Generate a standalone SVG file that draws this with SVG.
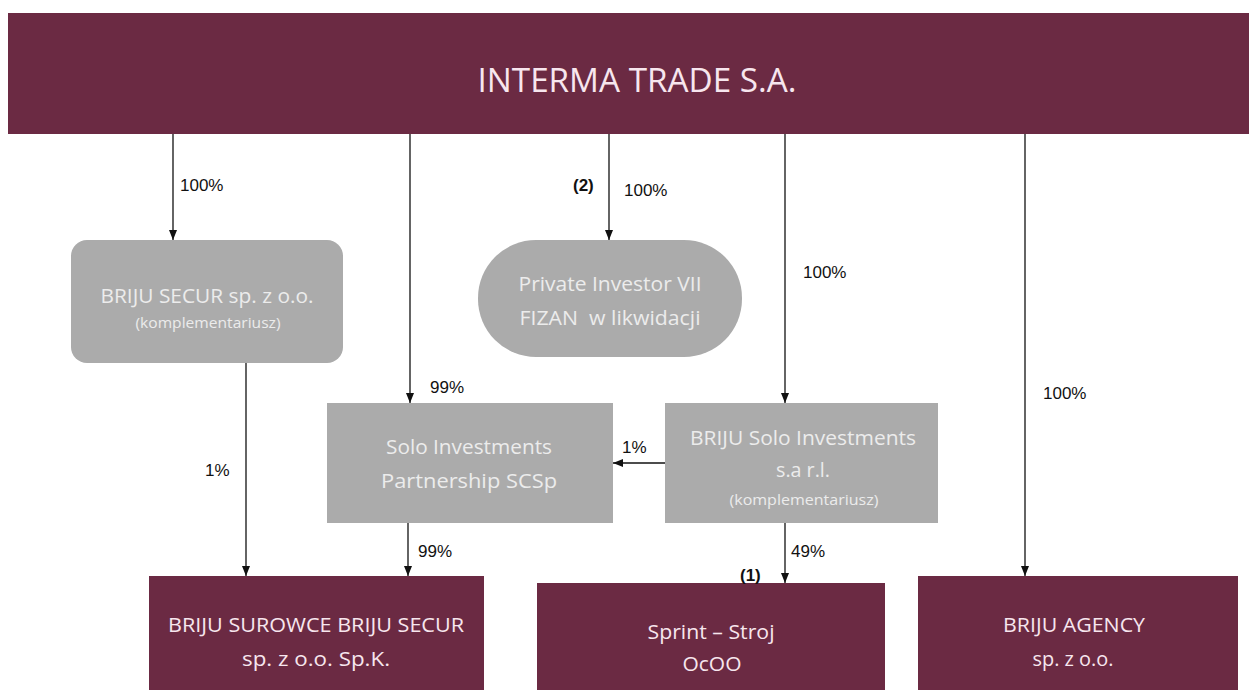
<svg xmlns="http://www.w3.org/2000/svg" width="1249" height="690" viewBox="0 0 1249 690">
<defs>
<marker id="ah" viewBox="0 0 10 10" refX="10" refY="5" markerWidth="10" markerHeight="10" markerUnits="userSpaceOnUse" orient="auto">
<path d="M0,1 L10,5 L0,9 Z" fill="#111"/>
</marker>
</defs>
<style>
.maroon{fill:#6B2A43}
.gray{fill:#ABABAB}
.tm{fill:#F7E6EE;font-family:"Open Sans","Liberation Sans",sans-serif;text-anchor:middle}
.tg{fill:#ECECEC;font-family:"Open Sans","Liberation Sans",sans-serif;text-anchor:middle}
.lbl{fill:#111;font-family:"Liberation Sans",sans-serif;font-size:17px}
.b{font-weight:bold}
.c{stroke:#111;stroke-width:1.3;fill:none;marker-end:url(#ah)}
</style>
<rect width="1249" height="690" fill="#fff"/>
<g id="interma">
<rect class="maroon" x="8" y="13" width="1241" height="121"/>
<text class="tm" x="637" y="92" font-size="33" textLength="319" lengthAdjust="spacingAndGlyphs">INTERMA TRADE S.A.</text>
</g>
<g id="briju-secur">
<rect class="gray" x="71" y="240" width="272" height="123" rx="16"/>
<text class="tg" x="207" y="303" font-size="20" textLength="213" lengthAdjust="spacingAndGlyphs">BRIJU SECUR sp. z o.o.</text>
<text class="tg" x="208" y="328" font-size="14" textLength="145" lengthAdjust="spacingAndGlyphs">(komplementariusz)</text>
</g>
<g id="private-investor">
<rect class="gray" x="478" y="240" width="264" height="117" rx="58"/>
<text class="tg" x="610" y="291" font-size="20" textLength="183" lengthAdjust="spacingAndGlyphs">Private Investor VII</text>
<text class="tg" x="610" y="325" font-size="20" textLength="181" lengthAdjust="spacingAndGlyphs" xml:space="preserve">FIZAN  w likwidacji</text>
</g>
<g id="solo-partnership">
<rect class="gray" x="327" y="403" width="286" height="120"/>
<text class="tg" x="469" y="454" font-size="20" textLength="166" lengthAdjust="spacingAndGlyphs">Solo Investments</text>
<text class="tg" x="469" y="488" font-size="20" textLength="176" lengthAdjust="spacingAndGlyphs">Partnership SCSp</text>
</g>
<g id="briju-solo">
<rect class="gray" x="665" y="403" width="273" height="120"/>
<text class="tg" x="803" y="445" font-size="20" textLength="226" lengthAdjust="spacingAndGlyphs">BRIJU Solo Investments</text>
<text class="tg" x="803" y="477" font-size="20" textLength="54" lengthAdjust="spacingAndGlyphs">s.a r.l.</text>
<text class="tg" x="804" y="505" font-size="14" textLength="149" lengthAdjust="spacingAndGlyphs">(komplementariusz)</text>
</g>
<g id="briju-surowce">
<rect class="maroon" x="149" y="576" width="335" height="114"/>
<text class="tm" x="316" y="632" font-size="20" textLength="296" lengthAdjust="spacingAndGlyphs">BRIJU SUROWCE BRIJU SECUR</text>
<text class="tm" x="316" y="666" font-size="20" textLength="148" lengthAdjust="spacingAndGlyphs">sp. z o.o. Sp.K.</text>
</g>
<g id="sprint-stroj">
<rect class="maroon" x="537" y="583" width="348" height="107"/>
<text class="tm" x="711" y="639" font-size="20" textLength="127" lengthAdjust="spacingAndGlyphs">Sprint – Stroj</text>
<text class="tm" x="712" y="671" font-size="20" textLength="59" lengthAdjust="spacingAndGlyphs">OcOO</text>
</g>
<g id="briju-agency">
<rect class="maroon" x="918" y="576" width="320" height="114"/>
<text class="tm" x="1074" y="632" font-size="20" textLength="142" lengthAdjust="spacingAndGlyphs">BRIJU AGENCY</text>
<text class="tm" x="1073" y="666" font-size="20" textLength="81" lengthAdjust="spacingAndGlyphs">sp. z o.o.</text>
</g>
<g id="connectors">
<line class="c" x1="173" y1="134" x2="173" y2="240"/>
<line class="c" x1="410" y1="134" x2="410" y2="403"/>
<line class="c" x1="609" y1="134" x2="609" y2="240"/>
<line class="c" x1="785" y1="134" x2="785" y2="403"/>
<line class="c" x1="1025" y1="134" x2="1025" y2="576"/>
<line class="c" x1="246" y1="363" x2="246" y2="576"/>
<line class="c" x1="408" y1="523" x2="408" y2="576"/>
<line class="c" x1="785" y1="523" x2="785" y2="583"/>
<line class="c" x1="665" y1="463" x2="613" y2="463"/>
</g>
<g id="labels">
<text class="lbl" x="180" y="191">100%</text>
<text class="lbl" x="430" y="393">99%</text>
<text class="lbl b" x="573" y="191">(2)</text>
<text class="lbl" x="624" y="196">100%</text>
<text class="lbl" x="803" y="278">100%</text>
<text class="lbl" x="1043" y="399">100%</text>
<text class="lbl" x="205" y="476">1%</text>
<text class="lbl" x="418" y="557">99%</text>
<text class="lbl" x="622" y="453">1%</text>
<text class="lbl" x="791" y="557">49%</text>
<text class="lbl b" x="740" y="581">(1)</text>
</g>
</svg>
